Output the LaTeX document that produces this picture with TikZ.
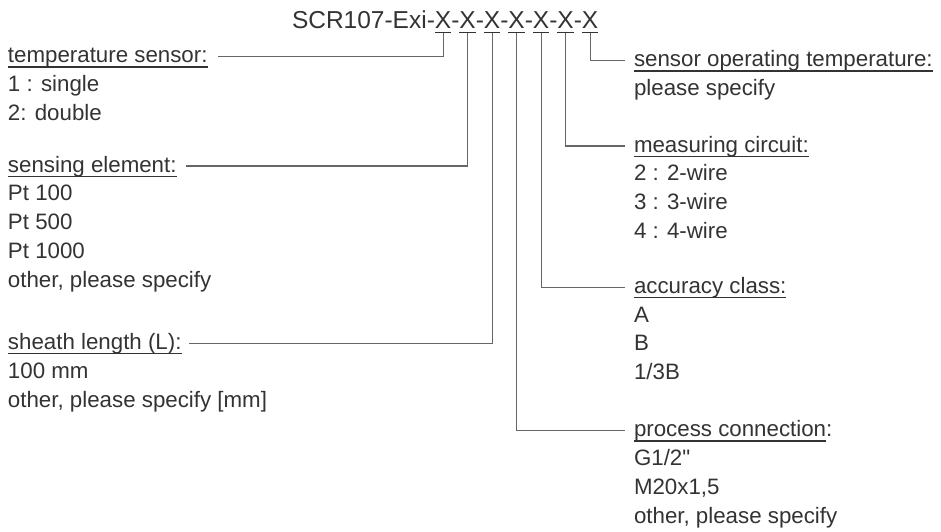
\documentclass[tikz,border=0pt]{standalone}
\usepackage{fontspec}
\setmainfont{Liberation Sans}[Ligatures=TeXOff]
\newsavebox{\undlbox}
\newcommand{\undl}[1]{\sbox{\undlbox}{#1}%
  \rlap{\vrule width \wd\undlbox height -3.5pt depth 4.8pt}\usebox{\undlbox}}
\definecolor{ink}{HTML}{333333}
\definecolor{wire}{HTML}{666666}
\tikzset{codepart/.style=
   {inner sep=0pt,
    outer sep=0pt,
    anchor=base west,
    text=ink,
    font=\fontsize{24.5}{29}\selectfont}}
\tikzset{hdr/.style=
   {inner sep=0pt,
    outer sep=0pt,
    anchor=base west,
    text=ink,
    font=\fontsize{22.3}{26}\selectfont}}
\tikzset{optitem/.style = {hdr}}
\tikzset{lead/.style = {draw=wire, line width=1.1pt}}

\begin{document}
\begin{tikzpicture}[x=1pt, y=-1pt]
    \useasboundingbox (0,0) rectangle (941,531);

    % order code
    \node [codepart] (pre) at (292,28.3) {SCR107-Exi-};
    \node [codepart] (x1) at (pre.base east) {\undl{X}};
    \foreach \i [remember=\i as \j (initially 1)] in {2,...,7}
    {
        \node [codepart] (h\i) at (x\j.base east) {-};
        \node [codepart] (x\i) at (h\i.base east) {\undl{X}};
    }

    % left column
    \node [hdr] (ts) at (8,62.7) {\undl{temperature sensor:}};
    \foreach \t [count=\i] in {1 : single, 2: double}
        \node [optitem] (ts-\i) at ([yshift=-\i*28.8pt]ts.base west) {\t};

    \node [hdr] (se) at (8,172) {\undl{sensing element:}};
    \foreach \t [count=\i] in {Pt 100, Pt 500, Pt 1000, {other, please specify}}
        \node [optitem] (se-\i) at ([yshift=-\i*28.8pt]se.base west) {\t};

    \node [hdr] (sl) at (8,349.5) {\undl{sheath length (L):}};
    \foreach \t [count=\i] in {100 mm, {other, please specify [mm]}}
        \node [optitem] (sl-\i) at ([yshift=-\i*28.8pt]sl.base west) {\t};

    % right column
    \node [hdr] (sot) at (634,66.7) {\undl{sensor operating temperature:}};
    \node [optitem] (sot-1) at ([yshift=-28.8pt]sot.base west) {please specify};

    \node [hdr] (mc) at (634,152) {\undl{measuring circuit:}};
    \foreach \t [count=\i] in {2 : 2-wire, 3 : 3-wire, 4 : 4-wire}
        \node [optitem] (mc-\i) at ([yshift=-\i*28.8pt]mc.base west) {\t};

    \node [hdr] (ac) at (634,293.3) {\undl{accuracy class:}};
    \foreach \t [count=\i] in {A, B, 1/3B}
        \node [optitem] (ac-\i) at ([yshift=-\i*28.8pt]ac.base west) {\t};

    \node [hdr] (pc) at (634,436.7) {\undl{process connection}:};
    \foreach \t [count=\i] in {G1/2", {M20x1,5}, {other, please specify}}
        \node [optitem] (pc-\i) at ([yshift=-\i*28.8pt]pc.base west) {\t};

    % leaders
    \draw [lead] (x1.south) |- ([xshift=10pt,yshift=6pt]ts.base east);
    \draw [lead] (x2.south) |- ([xshift=9pt,yshift=6pt]se.base east);
    \draw [lead] (x3.south) |- ([xshift=7pt,yshift=6pt]sl.base east);
    \draw [lead] (x4.south) |- ([xshift=-9pt,yshift=6pt]pc.base west);
    \draw [lead] (x5.south) |- ([xshift=-9pt,yshift=6pt]ac.base west);
    \draw [lead] (x6.south) |- ([xshift=-9pt,yshift=6pt]mc.base west);
    \draw [lead] (x7.south) |- ([xshift=-9pt,yshift=6pt]sot.base west);

\end{tikzpicture}
\end{document}
